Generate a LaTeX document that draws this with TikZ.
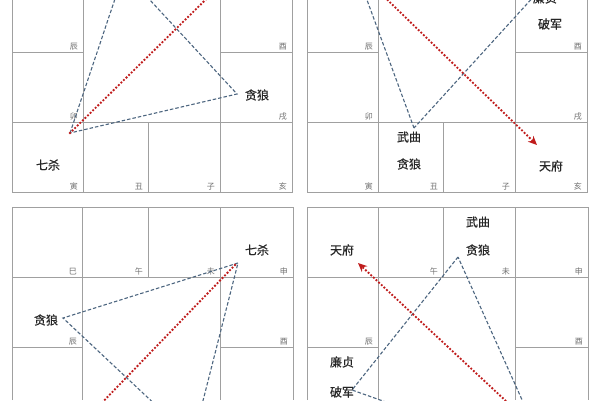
\documentclass[tikz,border=0pt]{standalone}
\usepackage{fontspec}
\newfontfamily\cjk{Noto Sans CJK SC}
\newfontfamily\cjkb[FakeBold=0.7]{Noto Sans CJK SC}
\usetikzlibrary{arrows.meta}
\definecolor{gridc}{HTML}{A0A0A0}
\definecolor{branchc}{HTML}{707070}
\definecolor{bluec}{HTML}{4D6680}
\definecolor{redc}{HTML}{C01C1C}
\tikzset{
  gridline/.style={draw=gridc, line width=1pt},
  branch/.style={anchor=south east, inner sep=0pt, text=branchc, font=\cjk\fontsize{8}{8}\selectfont},
  starlbl/.style={inner sep=0pt, text=black!85, font=\cjkb\fontsize{12}{12}\selectfont},
  bluedash/.style={draw=bluec, line width=1.1pt, dash pattern=on 3.5pt off 2pt},
  reddot/.style={draw=redc, line width=2.6pt, dash pattern=on 0pt off 3.6pt, line cap=round},
  redarrow/.style={reddot, -{Stealth[length=9pt,width=8pt,fill=redc]}}
}
\newcommand{\brl}[4]{\node[branch] (#1) at (#2-5,#3-2) {#4};}
\begin{document}
\begin{tikzpicture}[x=1pt,y=-1pt]
\useasboundingbox[fill=white] (0,0) rectangle (600,400);

% ---------------- Panel 1 (top left)
\begin{scope}
\clip (0,0) rectangle (300,197);
\draw[gridline] (12,0) -- (12,192) -- (292,192) -- (292,0);
\draw[gridline] (83,0) -- (83,192);
\draw[gridline] (220,0) -- (220,192);
\draw[gridline] (148,122) -- (148,192);
\draw[gridline] (12,52) -- (83,52);
\draw[gridline] (220,52) -- (292,52);
\draw[gridline] (12,122) -- (292,122);
\brl{p1chen}{83}{52}{辰}
\brl{p1you}{292}{52}{酉}
\brl{p1mao}{83}{122}{卯}
\brl{p1xu}{292}{122}{戌}
\brl{p1yin}{83}{192}{寅}
\brl{p1chou}{148}{192}{丑}
\brl{p1zi}{220}{192}{子}
\brl{p1hai}{292}{192}{亥}
\node[starlbl] (p1tl) at (257,95) {贪狼};
\node[starlbl] (p1qs) at (48,165) {七杀};
\coordinate (p1a) at (70,133);
\coordinate (p1b) at (237,94);
\coordinate (p1c) at (124,-28);
\coordinate (p1r) at (246,-40);
\draw[bluedash] (p1a) -- (p1c) -- (p1b) -- cycle;
\draw[redarrow] (p1a) -- (p1r);
\end{scope}

% ---------------- Panel 2 (top right)
\begin{scope}
\clip (300,0) rectangle (600,197);
\draw[gridline] (307,0) -- (307,192) -- (587,192) -- (587,0);
\draw[gridline] (378,0) -- (378,192);
\draw[gridline] (515,0) -- (515,192);
\draw[gridline] (443,122) -- (443,192);
\draw[gridline] (307,52) -- (378,52);
\draw[gridline] (515,52) -- (587,52);
\draw[gridline] (307,122) -- (587,122);
\brl{p2chen}{378}{52}{辰}
\brl{p2you}{587}{52}{酉}
\brl{p2mao}{378}{122}{卯}
\brl{p2xu}{587}{122}{戌}
\brl{p2yin}{378}{192}{寅}
\brl{p2chou}{443}{192}{丑}
\brl{p2zi}{515}{192}{子}
\brl{p2hai}{587}{192}{亥}
\node[starlbl] (p2lz) at (545,-2) {廉贞};
\node[starlbl] (p2pj) at (550,24) {破军};
\node[starlbl] (p2wq) at (409,137) {武曲};
\node[starlbl] (p2tl) at (409,164) {贪狼};
\node[starlbl] (p2tf) at (551,166) {天府};
\coordinate (p2a) at (414,128);
\coordinate (p2b) at (356,-30);
\coordinate (p2c) at (536,-6);
\coordinate (p2s) at (367,-20);
\coordinate (p2e) at (537,145);
\draw[bluedash] (p2a) -- (p2b) -- (p2c) -- cycle;
\draw[redarrow] (p2s) -- (p2e);
\end{scope}

% ---------------- Panel 3 (bottom left)
\begin{scope}
\clip (0,200) rectangle (300,400);
\draw[gridline] (12,400) -- (12,207) -- (293,207) -- (293,400);
\draw[gridline] (82,207) -- (82,400);
\draw[gridline] (220,207) -- (220,400);
\draw[gridline] (148,207) -- (148,277);
\draw[gridline] (12,277) -- (293,277);
\draw[gridline] (12,347) -- (82,347);
\draw[gridline] (220,347) -- (293,347);
\brl{p3si}{82}{277}{巳}
\brl{p3wu}{148}{277}{午}
\brl{p3wei}{220}{277}{未}
\brl{p3shen}{293}{277}{申}
\brl{p3chen}{82}{347}{辰}
\brl{p3you}{293}{347}{酉}
\node[starlbl] (p3qs) at (257,250) {七杀};
\node[starlbl] (p3tl) at (46,320) {贪狼};
\coordinate (p3a) at (238,263);
\coordinate (p3b) at (63,318);
\coordinate (p3c) at (193,440);
\coordinate (p3s) at (235,265);
\coordinate (p3e) at (66,440);
\draw[bluedash] (p3a) -- (p3b) -- (p3c) -- cycle;
\draw[redarrow] (p3s) -- (p3e);
\end{scope}

% ---------------- Panel 4 (bottom right)
\begin{scope}
\clip (300,200) rectangle (600,400);
\draw[gridline] (307,400) -- (307,207) -- (588,207) -- (588,400);
\draw[gridline] (378,207) -- (378,400);
\draw[gridline] (515,207) -- (515,400);
\draw[gridline] (443,207) -- (443,277);
\draw[gridline] (307,277) -- (588,277);
\draw[gridline] (307,347) -- (378,347);
\draw[gridline] (515,347) -- (588,347);
\brl{p4wu}{443}{277}{午}
\brl{p4wei}{515}{277}{未}
\brl{p4shen}{588}{277}{申}
\brl{p4chen}{378}{347}{辰}
\brl{p4you}{588}{347}{酉}
\node[starlbl] (p4tf) at (342,250) {天府};
\node[starlbl] (p4wq) at (478,222) {武曲};
\node[starlbl] (p4tl) at (478,250) {贪狼};
\node[starlbl] (p4lz) at (342,362) {廉贞};
\node[starlbl] (p4pj) at (342,392) {破军};
\coordinate (p4a) at (458,257);
\coordinate (p4b) at (352,390);
\coordinate (p4c) at (549,460);
\coordinate (p4s) at (537,430);
\coordinate (p4e) at (358,263);
\draw[bluedash] (p4a) -- (p4b) -- (p4c) -- cycle;
\draw[redarrow] (p4s) -- (p4e);
\end{scope}
\end{tikzpicture}
\end{document}
